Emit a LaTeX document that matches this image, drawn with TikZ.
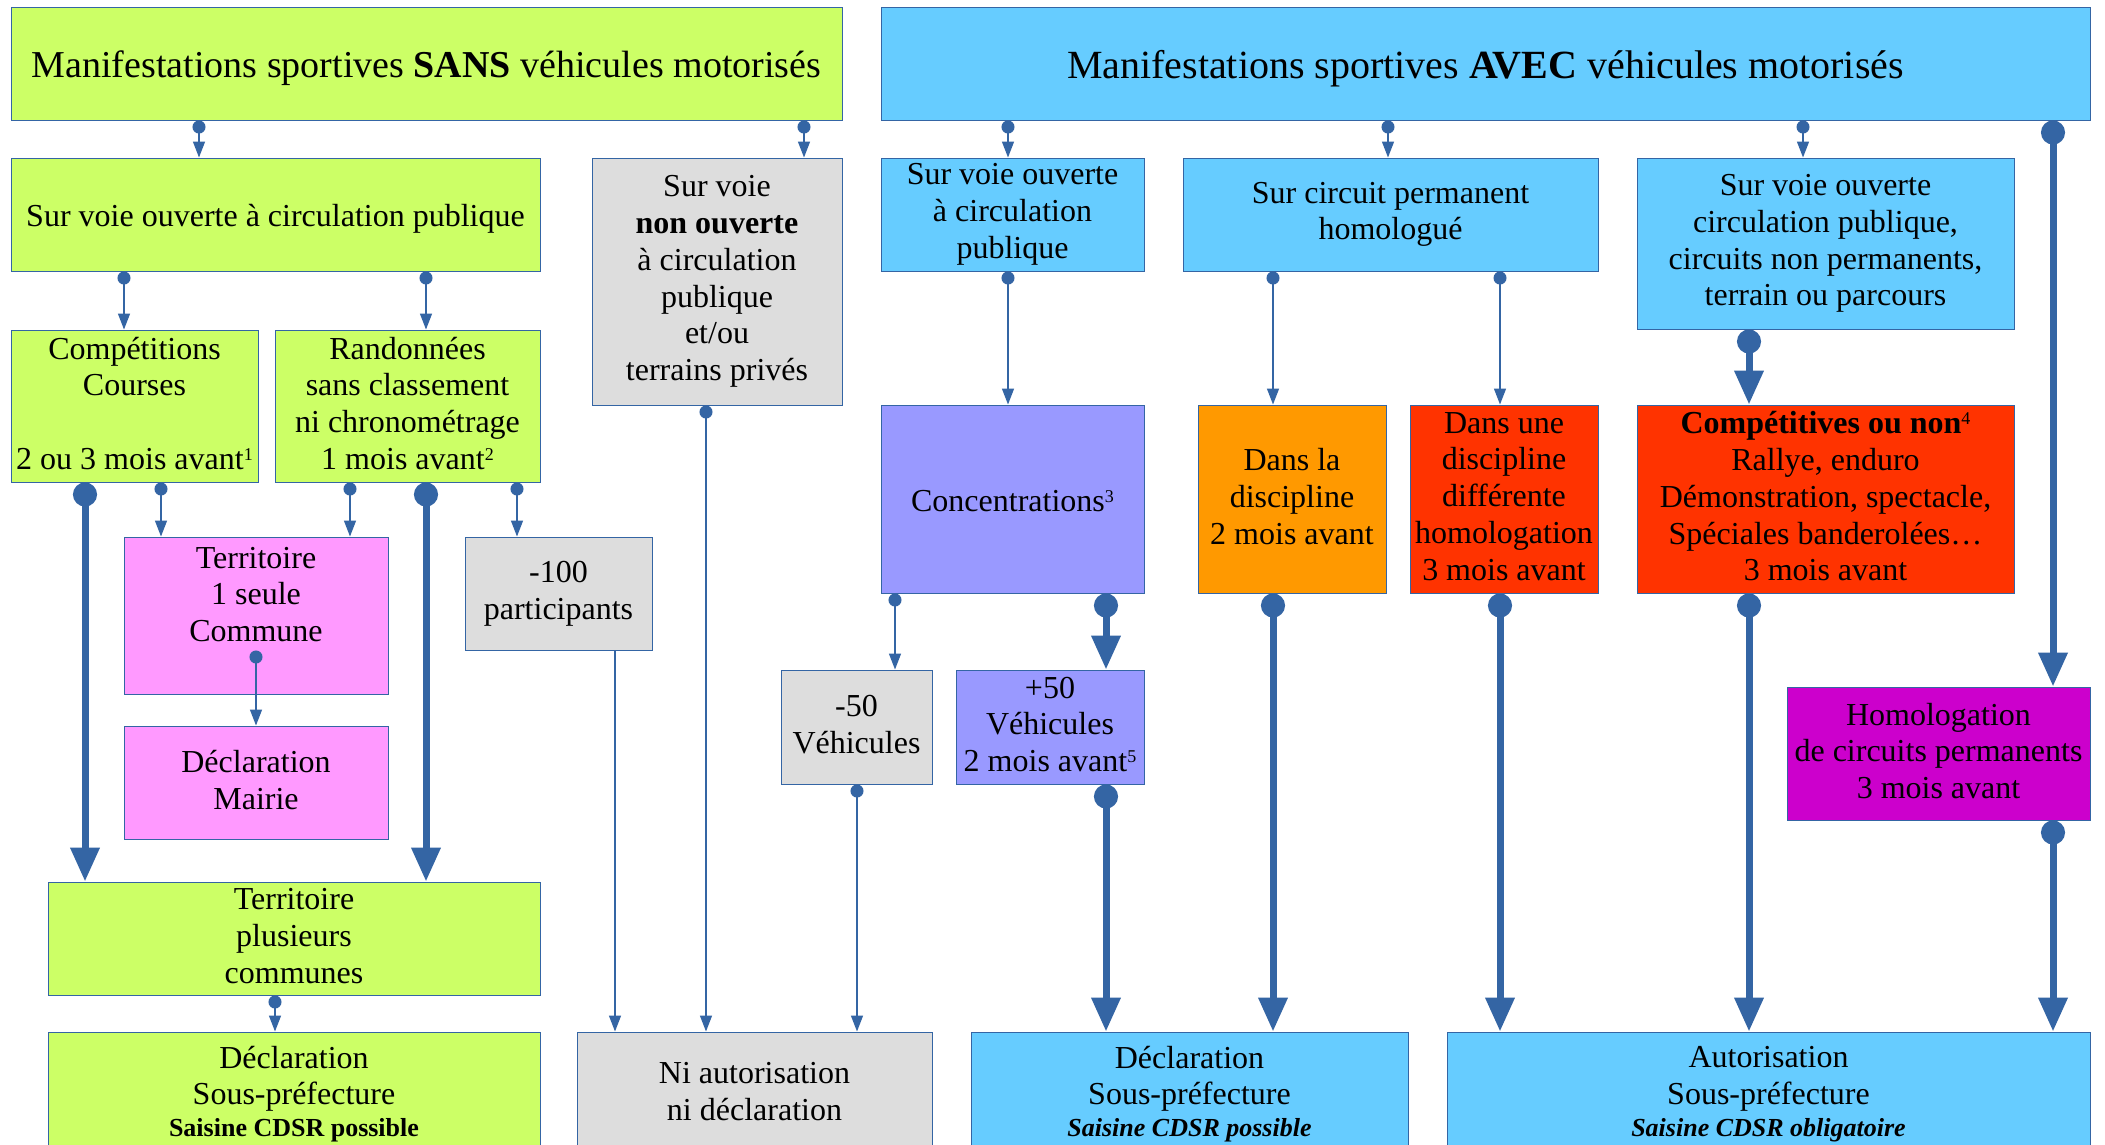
\documentclass[tikz,border=0pt]{standalone}
\usepackage{fontspec}
\setmainfont{Liberation Serif}
\usetikzlibrary{arrows.meta}

\definecolor{trait}{HTML}{3465A4}
\definecolor{cvert}{HTML}{CCFF66}
\definecolor{cbleu}{HTML}{66CCFF}
\definecolor{cgris}{HTML}{DDDDDD}
\definecolor{crose}{HTML}{FF99FF}
\definecolor{cmauve}{HTML}{9999FF}
\definecolor{corange}{HTML}{FF9900}
\definecolor{crouge}{HTML}{FF3300}
\definecolor{cpourpre}{HTML}{CC00CC}
\newcommand{\fnote}[1]{\raisebox{9pt}{\fontsize{18}{18}\selectfont #1}}
\newcommand{\saisine}[1]{\\[-5pt]{\fontsize{26}{30}\selectfont\bfseries #1}}

\begin{document}
\begin{tikzpicture}
  [x=1pt,y=-1pt,
   box/.style={draw=trait,line width=1pt,inner sep=0pt,align=center,font=\fontsize{32}{36.7}\selectfont,
     execute at begin node={\rule{0pt}{30pt}},execute at end node={\rule[-5.6pt]{0pt}{5.6pt}}},
   titre/.style={font=\fontsize{38}{44}\selectfont,
     execute at begin node={\rule{0pt}{36pt}},execute at end node={\rule[-8pt]{0pt}{8pt}}},
   grandtitre/.style={font=\fontsize{40}{46}\selectfont,
     execute at begin node={\rule{0pt}{38pt}},execute at end node={\rule[-8.5pt]{0pt}{8.5pt}}},
   fin/.style={trait,line width=1.5pt,arrows={Circle[length=13pt]-Triangle[length=16pt,width=12pt]}},
   gros/.style={trait,line width=7pt,arrows={Circle[length=24pt]-Triangle[length=34pt,width=28pt]}}]
  \useasboundingbox (0,0) rectangle (2105,1144);
  \fill[white] (0,0) rectangle (2105,1144);

  \node[box,titre,fill=cvert,minimum width=831pt,minimum height=113pt] (sansT) at (426.5,63.5) {Manifestations sportives \textbf{SANS} véhicules motorisés};
  \node[box,grandtitre,fill=cbleu,minimum width=1209pt,minimum height=113pt] (avecT) at (1485.5,63.5) {Manifestations sportives \textbf{AVEC} véhicules motorisés};

  \node[box,fill=cvert,minimum width=529pt,minimum height=113pt] (voieS) at (275.5,214.5) {Sur voie ouverte à circulation publique};
  \node[box,fill=cgris,minimum width=250pt,minimum height=247pt] (nonouv) at (717,281.5) {Sur voie\\\textbf{non ouverte}\\à circulation\\publique\\et/ou\\terrains privés};
  \node[box,fill=cbleu,minimum width=263pt,minimum height=113pt] (voieA) at (1012.5,214.5) {Sur voie ouverte\\à circulation\\publique};
  \node[box,fill=cbleu,minimum width=415pt,minimum height=113pt] (circuit) at (1390.5,214.5) {Sur circuit permanent\\homologué};
  \node[box,fill=cbleu,minimum width=377pt,minimum height=171pt] (voieB) at (1825.5,243.5) {Sur voie ouverte\\circulation publique,\\circuits non permanents,\\terrain ou parcours};

  \node[box,fill=cvert,minimum width=247pt,minimum height=152pt] (compet) at (134.5,406) {Compétitions\\Courses\\[36.7pt]2 ou 3 mois avant\fnote{1}};
  \node[box,fill=cvert,minimum width=265pt,minimum height=152pt] (rando) at (407.5,406) {Randonnées\\sans classement\\ni chronométrage\\1 mois avant\fnote{2}};
  \node[box,fill=cmauve,minimum width=263pt,minimum height=188pt] (concent) at (1012.5,499) {Concentrations\fnote{3}};
  \node[box,fill=corange,minimum width=188pt,minimum height=188pt] (danslad) at (1292,499) {Dans la\\discipline\\2 mois avant};
  \node[box,fill=crouge,minimum width=188pt,minimum height=188pt] (dansune) at (1504,499) {Dans une\\discipline\\différente\\homologation\\3 mois avant};
  \node[box,fill=crouge,minimum width=377pt,minimum height=188pt] (competit) at (1825.5,499) {\textbf{Compétitives ou non}\fnote{4}\\Rallye, enduro\\Démonstration, spectacle,\\Spéciales banderolées…\\3 mois avant};

  \node[box,fill=crose,minimum width=264pt,minimum height=157pt] (terr1) at (256,615.5) {Territoire\\1 seule\\Commune\\\mbox{}};
  \node[box,fill=cgris,minimum width=187pt,minimum height=113pt] (moins100) at (558.5,593.5) {-100\\participants};
  \node[box,fill=crose,minimum width=264pt,minimum height=113pt] (mairie) at (256,782.5) {Déclaration\\Mairie};
  \node[box,fill=cgris,minimum width=151pt,minimum height=114pt] (moins50) at (856.5,727) {-50\\Véhicules};
  \node[box,fill=cmauve,minimum width=188pt,minimum height=114pt] (plus50) at (1050,727) {+50\\Véhicules\\2 mois avant\fnote{5}};
  \node[box,fill=cpourpre,minimum width=303pt,minimum height=133pt] (homolog) at (1938.5,753.5) {Homologation\\de circuits permanents\\3 mois avant};

  \node[box,fill=cvert,minimum width=492pt,minimum height=113pt] (terrP) at (294,938.5) {Territoire\\plusieurs\\communes};
  \node[box,fill=cvert,minimum width=492pt,minimum height=124pt] (declS) at (294,1094) {Déclaration\\Sous-préfecture\saisine{Saisine CDSR possible}};
  \node[box,fill=cgris,minimum width=355pt,minimum height=124pt] (niaut) at (754.5,1094) {Ni autorisation\\ni déclaration};
  \node[box,fill=cbleu,minimum width=437pt,minimum height=124pt] (declA) at (1189.5,1094) {Déclaration\\Sous-préfecture\saisine{\itshape Saisine CDSR possible}};
  \node[box,fill=cbleu,minimum width=643pt,minimum height=124pt] (autor) at (1768.5,1094) {Autorisation\\Sous-préfecture\saisine{\itshape Saisine CDSR obligatoire}};

  % fines liaisons
  \foreach \a/\da/\b/\db in {sansT/-227.5/voieS/-76.5, sansT/377.5/nonouv/87,
      avecT/-477.5/voieA/-4.5, avecT/-97.5/circuit/-2.5, avecT/317.5/voieB/-22.5,
      voieS/-151.5/compet/-10.5, voieS/150.5/rando/18.5,
      compet/26.5/terr1/-95, rando/-57.5/terr1/94, rando/109.5/moins100/-41.5,
      nonouv/-11/niaut/-48.5, moins50/0.5/niaut/102.5,
      voieA/-4.5/concent/-4.5, concent/-117.5/moins50/38.5,
      circuit/-117.5/danslad/-19, circuit/109.5/dansune/-4, terrP/-19/declS/-19}
    \draw[fin] ([xshift=\da]\a.south) -- ([xshift=\db]\b.north);
  \draw[fin] ([yshift=44pt]terr1.south) -- (mairie.north);
  \draw[fin,arrows={-Triangle[length=16pt,width=12pt]}] ([xshift=56.5]moins100.south) -- ([xshift=-139.5]niaut.north);

  % grosses liaisons
  \foreach \a/\da/\b/\db in {avecT/567.5/homolog/114.5, compet/-49.5/terrP/-209,
      rando/18.5/terrP/132, concent/93.5/plus50/56, plus50/56/declA/-83.5,
      danslad/-19/declA/83.5, dansune/-4/autor/-268.5, voieB/-76.5/competit/-76.5,
      competit/-76.5/autor/-19.5, homolog/114.5/autor/284.5}
    \draw[gros] ([xshift=\da]\a.south) -- ([xshift=\db]\b.north);

\end{tikzpicture}
\end{document}
